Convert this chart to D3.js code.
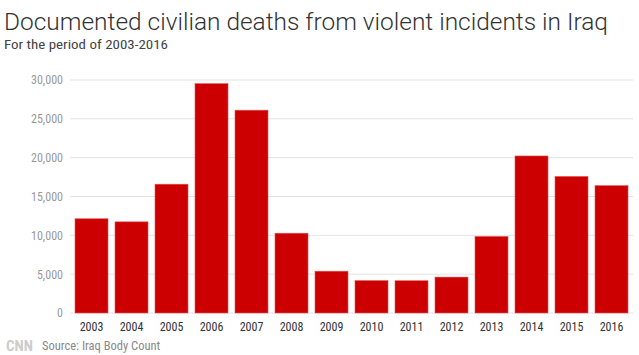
<!DOCTYPE html>
<html><head><meta charset="utf-8">
<script src="https://cdn.jsdelivr.net/npm/d3@7"></script>
<style>body{margin:0;background:#fff;}svg{display:block;}</style>
</head><body>
<script>
const years = ["2003","2004","2005","2006","2007","2008","2009","2010","2011","2012","2013","2014","2015","2016"];
const deaths = [12133,11736,16583,29526,26112,10271,5382,4167,4153,4622,9851,20218,17578,16393];
const yTicks = [0,5000,10000,15000,20000,25000,30000];

const W=639,H=355;
const svg=d3.select("body").append("svg").attr("width",W).attr("height",H);
const font="'Liberation Sans Narrow','Roboto Condensed','Liberation Sans',Arial,sans-serif";

svg.append("text").attr("x",4).attr("y",30).text("Documented civilian deaths from violent incidents in Iraq")
  .attr("font-family","Roboto, 'Liberation Sans', sans-serif").attr("font-weight",300).attr("font-size",24.5)
  .attr("textLength",604).attr("lengthAdjust","spacingAndGlyphs").attr("fill","#333");
svg.append("text").attr("x",4).attr("y",49).text("For the period of 2003-2016")
  .attr("font-family",font).attr("font-size",13.5).attr("textLength",164).attr("lengthAdjust","spacingAndGlyphs").attr("fill","#444");

const x=d3.scaleBand().domain(years).range([71,632]).paddingInner(0.175).paddingOuter(0.1);
const y=d3.scaleLinear().domain([0,30000]).range([313,80]);

const g=svg.append("g");
g.selectAll("line.grid").data(yTicks).join("line").attr("class","grid")
  .attr("x1",70).attr("x2",633).attr("y1",d=>y(d)).attr("y2",d=>y(d))
  .attr("stroke","#e3e3e3").attr("stroke-width",1);

const yAxis=svg.append("g").attr("transform","translate(70,0)")
  .call(d3.axisLeft(y).tickValues(yTicks).tickSize(0).tickPadding(7).tickFormat(d3.format(",")));
yAxis.select(".domain").remove();
yAxis.selectAll("text").attr("font-family",font).attr("font-size",12).attr("fill","#999");

g.selectAll("rect").data(deaths).join("rect")
  .attr("x",(d,i)=>x(years[i])).attr("width",x.bandwidth())
  .attr("y",d=>y(d)).attr("height",d=>y(0)-y(d))
  .attr("fill","#cc0000").attr("stroke","#e35050").attr("stroke-width",0.6);

const xAxis=svg.append("g").attr("transform","translate(0,313)")
  .call(d3.axisBottom(x).tickSize(0).tickPadding(9));
xAxis.select(".domain").remove();
xAxis.selectAll("text").attr("font-family",font).attr("font-size",12).attr("fill","#333");

svg.append("text").attr("x",6).attr("y",351).text("CNN")
  .attr("font-family",font).attr("font-weight","bold").attr("font-size",15).attr("fill","#ccc");
svg.append("text").attr("x",42).attr("y",350).text("Source: Iraq Body Count")
  .attr("font-family",font).attr("font-size",12.5).attr("fill","#888");
</script>
</body></html>
